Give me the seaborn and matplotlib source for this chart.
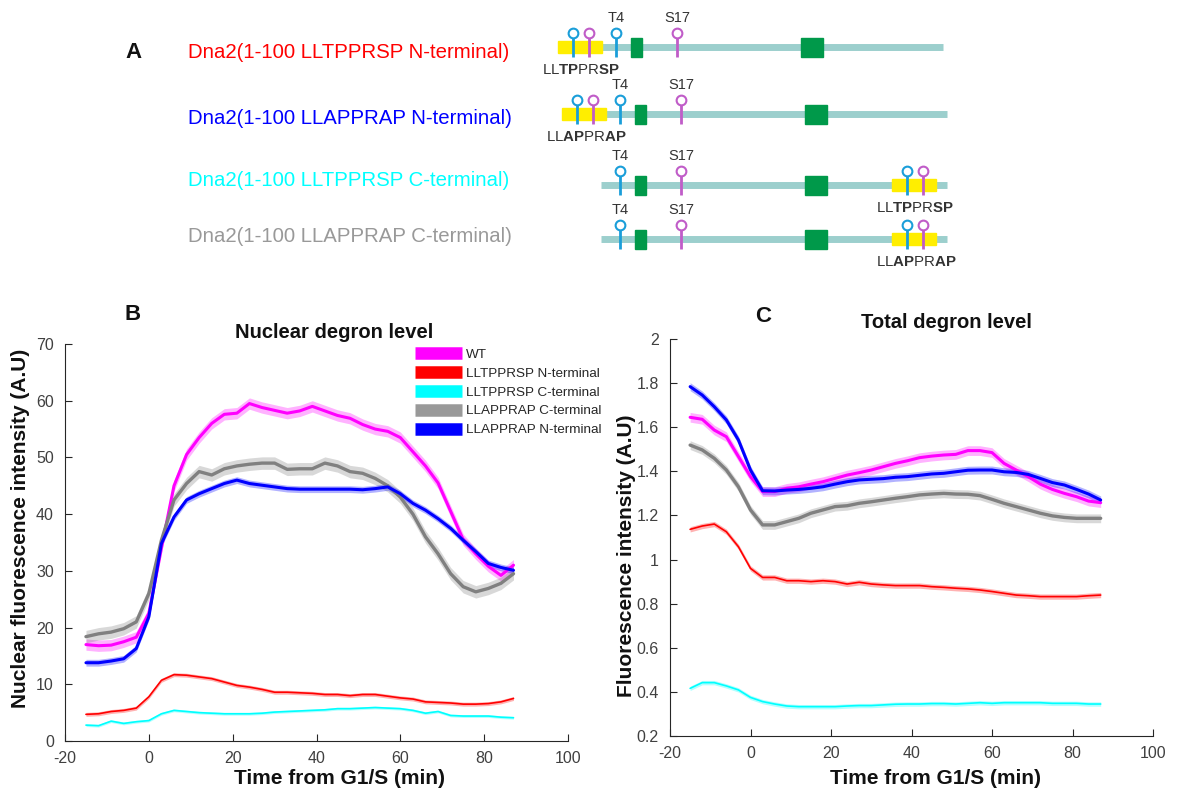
import numpy as np
import matplotlib
matplotlib.use("Agg")
import matplotlib.pyplot as plt
from matplotlib.patches import Rectangle
from matplotlib.lines import Line2D
import seaborn as sns
import pandas as pd

sns.set_style("ticks")
plt.rcParams["font.family"] = ["Liberation Sans", "DejaVu Sans"]
plt.rcParams["mathtext.fontset"] = "custom"
plt.rcParams["mathtext.rm"] = "Liberation Sans"
plt.rcParams["mathtext.bf"] = "Liberation Sans:bold"
plt.rcParams["axes.unicode_minus"] = False

#time points (min from G1/S)
time = [-15, -12, -9, -6, -3, 0, 3, 6, 9, 12, 15, 18, 21, 24, 27, 30, 33, 36, 39, 42,
        45, 48, 51, 54, 57, 60, 63, 66, 69, 72, 75, 78, 81, 84, 87]

series = ["WT", "LLTPPRSP N-terminal", "LLTPPRSP C-terminal", "LLAPPRAP C-terminal", "LLAPPRAP N-terminal"]
colors = ["#ff00ff", "#ff0000", "#00ffff", "#808080", "#0000ff"]
legend_colors = ["#ff00ff", "#ff0000", "#00ffff", "#999999", "#0000ff"]
widths = [2.2, 1.2, 1.2, 2.4, 2.2]

#B: nuclear degron level
wt_b = [17.0, 16.8, 16.9, 17.5, 18.3, 22.5, 34.0, 45.0, 50.5, 53.5, 56.0, 57.6, 57.8, 59.5, 58.8, 58.3, 57.8, 58.2,
        59.0, 58.2, 57.4, 56.9, 55.8, 55.0, 54.6, 53.5, 51.0, 48.5, 45.5, 40.5, 35.5, 33.0, 30.8, 29.2, 31.0]
red_b = [4.7, 4.8, 5.2, 5.4, 5.8, 7.8, 10.7, 11.7, 11.6, 11.3, 11.0, 10.4, 9.8, 9.5, 9.1, 8.6, 8.6, 8.5, 8.4, 8.2,
         8.2, 8.0, 8.2, 8.2, 7.9, 7.6, 7.4, 6.9, 6.8, 6.7, 6.5, 6.5, 6.6, 6.9, 7.5]
cyan_b = [2.8, 2.7, 3.5, 3.1, 3.4, 3.6, 4.8, 5.4, 5.2, 5.0, 4.9, 4.8, 4.8, 4.8, 4.9, 5.1, 5.2, 5.3, 5.4, 5.5,
          5.7, 5.7, 5.8, 5.9, 5.8, 5.7, 5.4, 4.9, 5.2, 4.5, 4.4, 4.4, 4.4, 4.2, 4.1]
gray_b = [18.4, 18.9, 19.2, 19.8, 21.0, 26.0, 35.4, 42.5, 45.4, 47.5, 46.9, 48.0, 48.5, 48.8, 49.0, 49.0, 47.9, 48.0,
          48.0, 49.0, 48.5, 47.5, 47.2, 46.3, 45.0, 43.0, 40.0, 36.0, 33.0, 29.5, 27.2, 26.3, 26.9, 27.8, 29.5]
blue_b = [13.8, 13.8, 14.1, 14.5, 16.3, 21.9, 34.8, 39.5, 42.5, 43.6, 44.5, 45.4, 46.0, 45.4, 45.1, 44.8, 44.5, 44.4,
          44.4, 44.4, 44.4, 44.4, 44.3, 44.5, 44.8, 43.6, 41.9, 40.7, 39.2, 37.5, 35.4, 33.4, 31.3, 30.6, 30.1]
sem_b = [1.0, 0.35, 0.25, 1.1, 0.6]

#C: total degron level
wt_c = [1.645, 1.636, 1.587, 1.557, 1.467, 1.376, 1.308, 1.308, 1.323, 1.330, 1.342, 1.353, 1.368, 1.383, 1.394,
        1.406, 1.421, 1.436, 1.448, 1.462, 1.469, 1.474, 1.477, 1.494, 1.494, 1.485, 1.436, 1.406, 1.376, 1.342,
        1.318, 1.300, 1.285, 1.265, 1.258]
red_c = [1.137, 1.152, 1.161, 1.126, 1.058, 0.960, 0.919, 0.919, 0.904, 0.904, 0.900, 0.904, 0.900, 0.889, 0.897,
         0.889, 0.885, 0.882, 0.882, 0.882, 0.877, 0.874, 0.870, 0.867, 0.862, 0.855, 0.847, 0.839, 0.836, 0.832,
         0.832, 0.832, 0.832, 0.836, 0.839]
cyan_c = [0.416, 0.442, 0.442, 0.427, 0.409, 0.375, 0.356, 0.345, 0.336, 0.333, 0.333, 0.333, 0.333, 0.336, 0.338,
          0.338, 0.341, 0.344, 0.345, 0.345, 0.347, 0.347, 0.345, 0.348, 0.351, 0.348, 0.351, 0.351, 0.351, 0.351,
          0.348, 0.348, 0.348, 0.345, 0.345]
gray_c = [1.519, 1.497, 1.459, 1.406, 1.330, 1.225, 1.157, 1.157, 1.172, 1.187, 1.210, 1.225, 1.240, 1.244, 1.255,
          1.262, 1.270, 1.278, 1.285, 1.293, 1.297, 1.300, 1.297, 1.296, 1.290, 1.273, 1.255, 1.240, 1.225, 1.210,
          1.198, 1.191, 1.187, 1.187, 1.187]
blue_c = [1.784, 1.746, 1.693, 1.633, 1.542, 1.406, 1.312, 1.311, 1.315, 1.318, 1.323, 1.330, 1.342, 1.353, 1.361,
          1.364, 1.367, 1.373, 1.376, 1.382, 1.388, 1.391, 1.398, 1.405, 1.406, 1.406, 1.398, 1.395, 1.386, 1.368,
          1.349, 1.338, 1.318, 1.297, 1.270]
sem_c = [0.022, 0.012, 0.01, 0.02, 0.018]

def long_table(values, sems):
    rows = []
    for name, vals, s in zip(series, values, sems):
        rows.append(pd.DataFrame({"time": time, "value": vals, "err": s, "series": name}))
    return pd.concat(rows, ignore_index=True)

df_b = long_table([wt_b, red_b, cyan_b, gray_b, blue_b], sem_b)
df_c = long_table([wt_c, red_c, cyan_c, gray_c, blue_c], sem_c)

W, H = 1196, 791
fig = plt.figure(figsize=(W / 100, H / 100), dpi=100)

def px_axes(left, right, top, bottom):
    return fig.add_axes([left / W, 1 - bottom / H, (right - left) / W, (bottom - top) / H])

axB = px_axes(65, 568, 344, 741)
axC = px_axes(670, 1153, 339, 736)

def draw_panel(ax, df):
    for name, c, lw in zip(series, colors, widths):
        d = df[df["series"] == name]
        ax.fill_between(d["time"], d["value"] - d["err"], d["value"] + d["err"], color=c, alpha=0.3, lw=0)
        sns.lineplot(data=d, x="time", y="value", color=c, lw=lw, ax=ax, legend=False)
    ax.set_xlim(-20, 100)
    ax.set_xticks(range(-20, 101, 20))
    sns.despine(ax=ax)
    ax.tick_params(direction="in", labelsize=11.5, labelcolor="#404040", color="#262626", length=5)
    ax.tick_params(axis="x", pad=7)
    ax.tick_params(axis="y", pad=8)
    for sp in ax.spines.values():
        sp.set_color("#262626")
    ax.set_xlabel("")
    ax.set_ylabel("")

draw_panel(axB, df_b)
axB.set_ylim(0, 70)
axB.set_yticks(range(0, 71, 10))

draw_panel(axC, df_c)
axC.set_ylim(0.2, 2)
axC.set_yticks(np.arange(0.2, 2.01, 0.2))
axC.set_yticklabels(["%g" % round(v, 1) for v in np.arange(0.2, 2.01, 0.2)])

handles = [Line2D([], [], color=c, lw=9, solid_capstyle="butt") for c in legend_colors]
axB.legend(handles, series, loc="upper left", bbox_to_anchor=(0.696, 0.988), frameon=False, fontsize=9.7,
           handlelength=3.5, handletextpad=0.3, labelspacing=0.47, borderpad=0, borderaxespad=0)

#overlay for texts and schematic (pixel coordinates)
ov = fig.add_axes([0, 0, 1, 1])
ov.set_xlim(0, W)
ov.set_ylim(H, 0)
ov.axis("off")
ov.patch.set_alpha(0)
ov.set_zorder(5)

bold = dict(fontweight="bold", color="#111111", ha="center", va="center")
ov.text(133, 52, "A", fontsize=16, **bold)
ov.text(133, 315, "B", fontsize=16, **bold)
ov.text(763, 317, "C", fontsize=16, **bold)
ov.text(334, 332, "Nuclear degron level", fontsize=14.5, **bold)
ov.text(946, 323, "Total degron level", fontsize=14.5, **bold)
ov.text(340, 779, "Time from G1/S (min)", fontsize=15, **bold)
ov.text(935, 779, "Time from G1/S (min)", fontsize=15, **bold)
ov.text(21, 528, "Nuclear fluorescence intensity (A.U)", fontsize=15, rotation=90, **bold)
ov.text(627, 556, "Fluorescence intensity (A.U)", fontsize=15, rotation=90, **bold)

#construct schematics
construct_labels = ["Dna2(1-100 LLTPPRSP N-terminal)", "Dna2(1-100 LLAPPRAP N-terminal)",
                    "Dna2(1-100 LLTPPRSP C-terminal)", "Dna2(1-100 LLAPPRAP C-terminal)"]
construct_colors = ["#ff0000", "#0000ff", "#00ffff", "#999999"]
label_y = [52, 119, 180, 237]
row_y = [47, 114, 185, 239]
row_shift = [-4, 0, 0, 0]
tag_side = ["N", "N", "C", "C"]
tag_text = [r"LL$\mathbf{TP}$PR$\mathbf{SP}$", r"LL$\mathbf{AP}$PR$\mathbf{AP}$",
            r"LL$\mathbf{TP}$PR$\mathbf{SP}$", r"LL$\mathbf{AP}$PR$\mathbf{AP}$"]

lolli_blue = "#1a9ed9"
lolli_mag = "#c05cc8"

def lollipop(x, y, c):
    ov.plot([x, x], [y - 10, y + 10], color=c, lw=2, solid_capstyle="butt", zorder=3)
    ov.plot([x], [y - 14], marker="o", ms=7, mfc="white", mec=c, mew=1.5, zorder=4)

for lab, lc, ly, y, dx, side, tt in zip(construct_labels, construct_colors, label_y, row_y, row_shift, tag_side, tag_text):
    ov.text(188, ly, lab, color=lc, fontsize=14.7, ha="left", va="center")
    start = 562 + dx if side == "N" else 601
    ov.plot([start, 947 + dx], [y, y], color="#9ccfcd", lw=5, solid_capstyle="butt", zorder=1)
    ov.add_patch(Rectangle((635 + dx, y - 9.5), 11, 19, color="#00994a", zorder=2))
    ov.add_patch(Rectangle((805 + dx, y - 9.5), 22, 19, color="#00994a", zorder=2))
    lollipop(620 + dx, y, lolli_blue)
    lollipop(681 + dx, y, lolli_mag)
    ov.text(620 + dx, y - 29, "T4", fontsize=10.5, color="#333333", ha="center", va="center")
    ov.text(681 + dx, y - 29, "S17", fontsize=10.5, color="#333333", ha="center", va="center")
    tx = 562 + dx if side == "N" else 892
    ov.add_patch(Rectangle((tx, y - 6), 44, 12, color="#ffee00", zorder=2))
    lollipop(tx + 15, y, lolli_blue)
    lollipop(tx + 31, y, lolli_mag)
    ov.text(tx - 16, y + 23, tt, fontsize=10.8, color="#333333", ha="left", va="center")

plt.savefig("out.png", dpi=100)
